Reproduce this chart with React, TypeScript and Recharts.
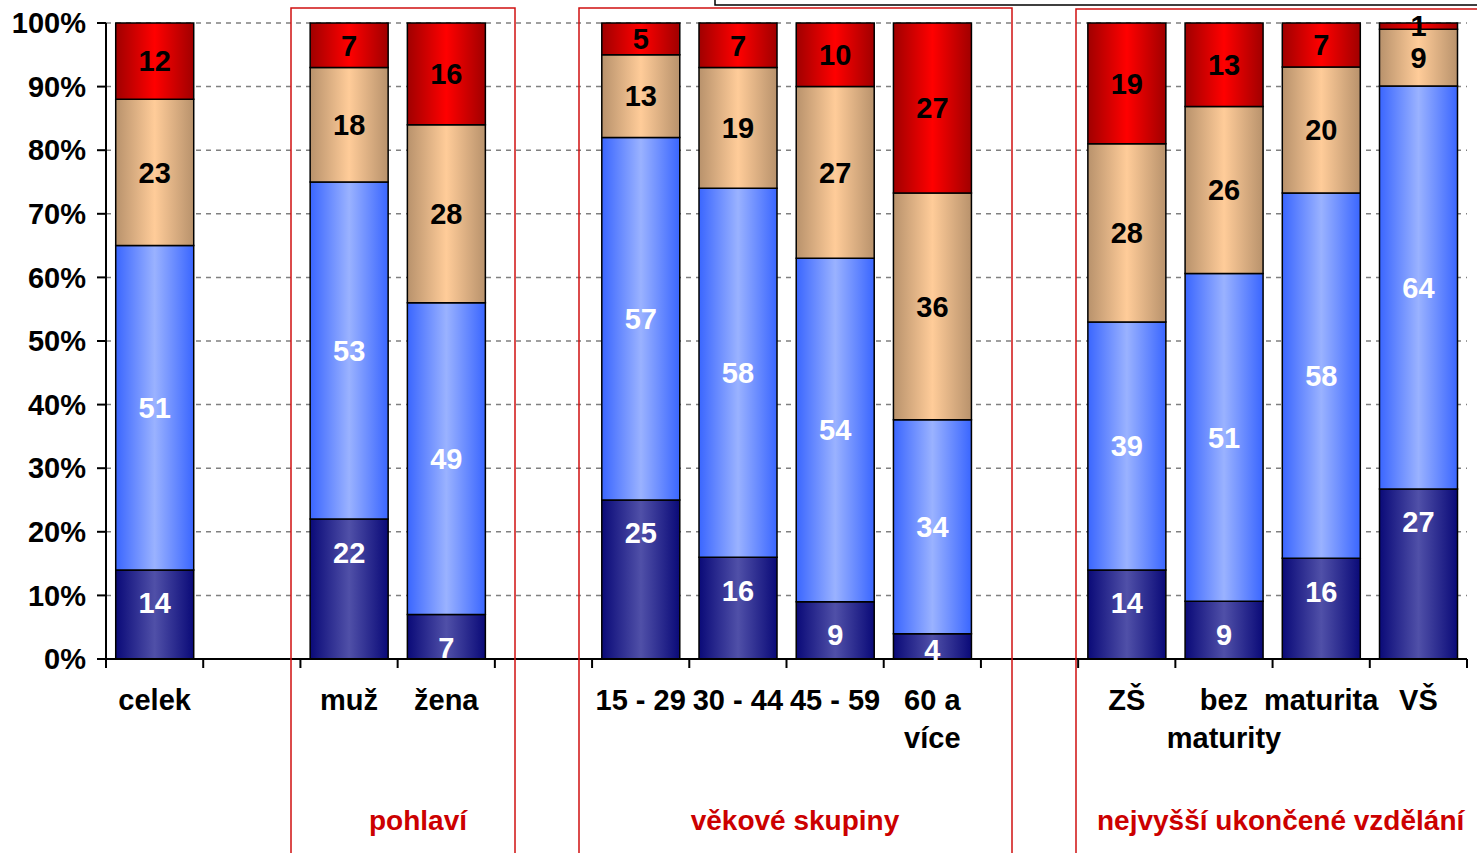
import { BarChart, Bar, XAxis, YAxis, CartesianGrid, LabelList } from 'recharts';

// Categories (gaps separate the groups)
const categories = ['celek', 'gap1', 'muž', 'žena', 'gap2', '15 - 29', '30 - 44', '45 - 59', '60 a více', 'gap3', 'ZŠ', 'bez maturity', 'maturita', 'VŠ'];
const tickLines: string[][] = [['celek'], [], ['muž'], ['žena'], [], ['15 - 29'], ['30 - 44'], ['45 - 59'], ['60 a', 'více'], [], ['ZŠ'], ['bez', 'maturity'], ['maturita'], ['VŠ']];

// Series values, bottom to top
const darkBlue = [14, null, 22, 7, null, 25, 16, 9, 4, null, 14, 9, 16, 27];
const lightBlue = [51, null, 53, 49, null, 57, 58, 54, 34, null, 39, 51, 58, 64];
const tan = [23, null, 18, 28, null, 13, 19, 27, 36, null, 28, 26, 20, 9];
const red = [12, null, 7, 16, null, 5, 7, 10, 27, null, 19, 13, 7, 1];

const yTicks = [0, 0.1, 0.2, 0.3, 0.4, 0.5, 0.6, 0.7, 0.8, 0.9, 1];

const data = categories.map((c, i) => ({
    name: c,
    d: darkBlue[i],
    l: lightBlue[i],
    t: tan[i],
    r: red[i],
}));

const FONT = '"Liberation Sans", Arial, sans-serif';
const PLOT_LEFT = 106;
const PLOT_RIGHT = 1467;
const BAND = (PLOT_RIGHT - PLOT_LEFT) / categories.length;

const XTick = (props: any) => {
    const { x, y, index } = props;
    const lines = tickLines[index] || [];
    return (
        <g>
            <line x1={x - BAND / 2} y1={y} x2={x - BAND / 2} y2={y + 9} stroke="#000" strokeWidth={2} />
            {index === categories.length - 1 && (
                <line x1={x + BAND / 2} y1={y} x2={x + BAND / 2} y2={y + 9} stroke="#000" strokeWidth={2} />
            )}
            {lines.map((t, i) => (
                <text key={i} x={x} y={y + 51 + i * 38} textAnchor="middle" fontFamily={FONT} fontWeight="bold" fontSize={29} fill="#000">
                    {t}
                </text>
            ))}
        </g>
    );
};

// dark blue labels sit near the top of their segment (Excel style)
const DarkLabel = (props: any) => {
    const { x, y, width, height, value } = props;
    if (value == null) return null;
    const cy = Math.min(y + 33, y + height - 9);
    return (
        <text x={x + width / 2} y={cy} dy="0.36em" textAnchor="middle" fill="#fff" fontFamily={FONT} fontWeight="bold" fontSize={29}>
            {value}
        </text>
    );
};

const labelStyle = (color: string) => ({
    fill: color,
    fontFamily: FONT,
    fontWeight: 'bold' as const,
    fontSize: 29,
});

const App = () => {
    return (
        <div style={{ position: 'absolute', left: 0, top: 0, width: 1477, height: 853, background: '#fff' }}>
            <BarChart
                width={1477}
                height={853}
                data={data}
                stackOffset="expand"
                barCategoryGap="10%"
                margin={{ top: 23, right: 1477 - PLOT_RIGHT, bottom: 44, left: 0 }}
            >
                <defs>
                    <linearGradient id="gDark" x1="0" y1="0" x2="1" y2="0">
                        <stop offset="0%" stopColor="#0a0a78" />
                        <stop offset="50%" stopColor="#5050a8" />
                        <stop offset="100%" stopColor="#0a0a78" />
                    </linearGradient>
                    <linearGradient id="gLight" x1="0" y1="0" x2="1" y2="0">
                        <stop offset="0%" stopColor="#3a66ff" />
                        <stop offset="50%" stopColor="#9ab2ff" />
                        <stop offset="100%" stopColor="#3a66ff" />
                    </linearGradient>
                    <linearGradient id="gTan" x1="0" y1="0" x2="1" y2="0">
                        <stop offset="0%" stopColor="#b8926c" />
                        <stop offset="50%" stopColor="#ffcc99" />
                        <stop offset="100%" stopColor="#b8926c" />
                    </linearGradient>
                    <linearGradient id="gRed" x1="0" y1="0" x2="1" y2="0">
                        <stop offset="0%" stopColor="#a00000" />
                        <stop offset="50%" stopColor="#ff0000" />
                        <stop offset="100%" stopColor="#a00000" />
                    </linearGradient>
                </defs>
                <CartesianGrid vertical={false} stroke="#808080" strokeWidth={1.5} strokeDasharray="5 5" />
                <XAxis
                    dataKey="name"
                    interval={0}
                    height={150}
                    tickSize={0}
                    tickMargin={0}
                    tickLine={false}
                    axisLine={{ stroke: '#000', strokeWidth: 2 }}
                    tick={<XTick />}
                />
                <YAxis
                    width={PLOT_LEFT}
                    domain={[0, 1]}
                    ticks={yTicks}
                    tickFormatter={(v) => `${Math.round(v * 100)}%`}
                    tickSize={9}
                    tickMargin={11}
                    axisLine={{ stroke: '#000', strokeWidth: 2 }}
                    tickLine={{ stroke: '#000', strokeWidth: 2 }}
                    tick={{ fill: '#000', fontFamily: FONT, fontWeight: 'bold', fontSize: 29 }}
                />
                <Bar dataKey="d" stackId="a" fill="url(#gDark)" stroke="#000" strokeWidth={1.5} isAnimationActive={false}>
                    <LabelList dataKey="d" content={<DarkLabel />} />
                </Bar>
                <Bar dataKey="l" stackId="a" fill="url(#gLight)" stroke="#000" strokeWidth={1.5} isAnimationActive={false}>
                    <LabelList dataKey="l" position="center" style={labelStyle('#fff')} />
                </Bar>
                <Bar dataKey="t" stackId="a" fill="url(#gTan)" stroke="#000" strokeWidth={1.5} isAnimationActive={false}>
                    <LabelList dataKey="t" position="center" style={labelStyle('#000')} />
                </Bar>
                <Bar dataKey="r" stackId="a" fill="url(#gRed)" stroke="#000" strokeWidth={1.5} isAnimationActive={false}>
                    <LabelList dataKey="r" position="center" style={labelStyle('#000')} />
                </Bar>
            </BarChart>
            {/* group frames and captions */}
            <svg width={1477} height={853} style={{ position: 'absolute', left: 0, top: 0, pointerEvents: 'none' }}>
                <polyline points="715,0 715,5 1480,5" fill="none" stroke="#000" strokeWidth={1.5} />
                <rect x={291} y={8} width={224} height={860} fill="none" stroke="#d01010" strokeWidth={1.5} />
                <rect x={579} y={8} width={433} height={860} fill="none" stroke="#d01010" strokeWidth={1.5} />
                <rect x={1076} y={9} width={420} height={860} fill="none" stroke="#d01010" strokeWidth={1.5} />
                <g fontFamily={FONT} fontWeight="bold" fontSize={28} fill="#cc0000">
                    <text x={418} y={830} textAnchor="middle">pohlaví</text>
                    <text x={795} y={830} textAnchor="middle">věkové skupiny</text>
                    <text x={1097} y={830}>nejvyšší ukončené vzdělání</text>
                </g>
            </svg>
        </div>
    );
};

export default App;
